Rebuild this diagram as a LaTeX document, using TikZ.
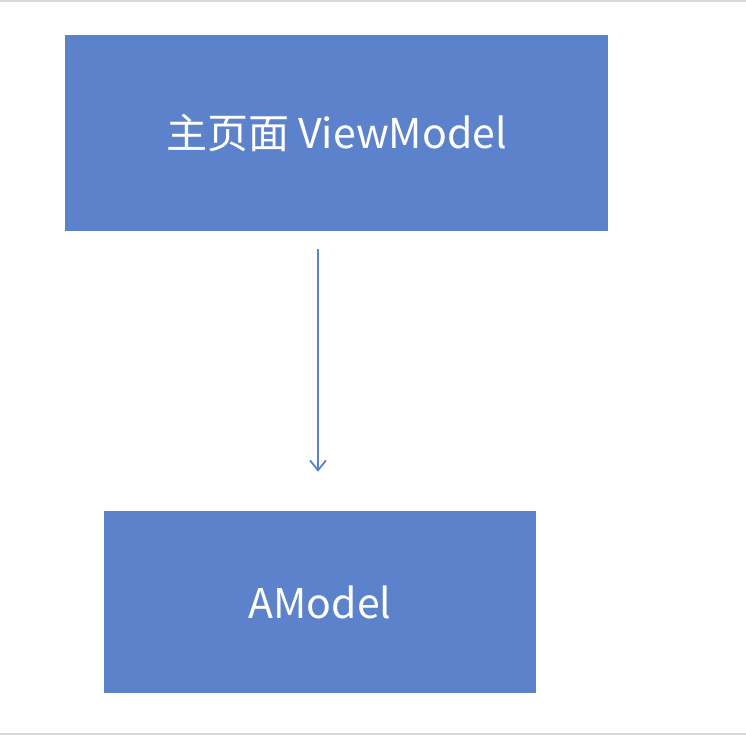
\documentclass[tikz,border=0pt]{standalone}
\usepackage{fontspec}
\newfontfamily\cjk{Noto Sans CJK SC}
\usetikzlibrary{arrows.meta}
\definecolor{boxblue}{HTML}{5B82CB}
\definecolor{edgegray}{HTML}{D9D9D9}

\begin{document}
\begin{tikzpicture}[x=1pt,y=-1pt]
    \tikzstyle{model}=[rectangle,fill=boxblue,text=white,inner sep=0pt,font=\cjk\fontsize{41}{48}\selectfont]
    \tikzstyle{link}=[draw=boxblue,line width=1.8pt,-{Straight Barb[length=10pt,width=16pt,line width=1.8pt]}]

    \useasboundingbox (0,0) rectangle (746,735);

    % frame lines of the page
    \draw[edgegray,line width=1.5pt] (0,0.8) -- (746,0.8);
    \draw[edgegray,line width=1.5pt] (0,734) -- (746,734);

    % view model box
    \node[model,minimum width=543pt,minimum height=196pt] (vm) at (336.5,133) {主页面 ViewModel};

    % model box
    \node[model,minimum width=432pt,minimum height=182pt] (am) at (320,602) {AModel};

    % link between them
    \draw[link] ([xshift=-18.5pt,yshift=-18pt]vm.south) -- ([xshift=-2pt,yshift=39pt]am.north);
\end{tikzpicture}
\end{document}
